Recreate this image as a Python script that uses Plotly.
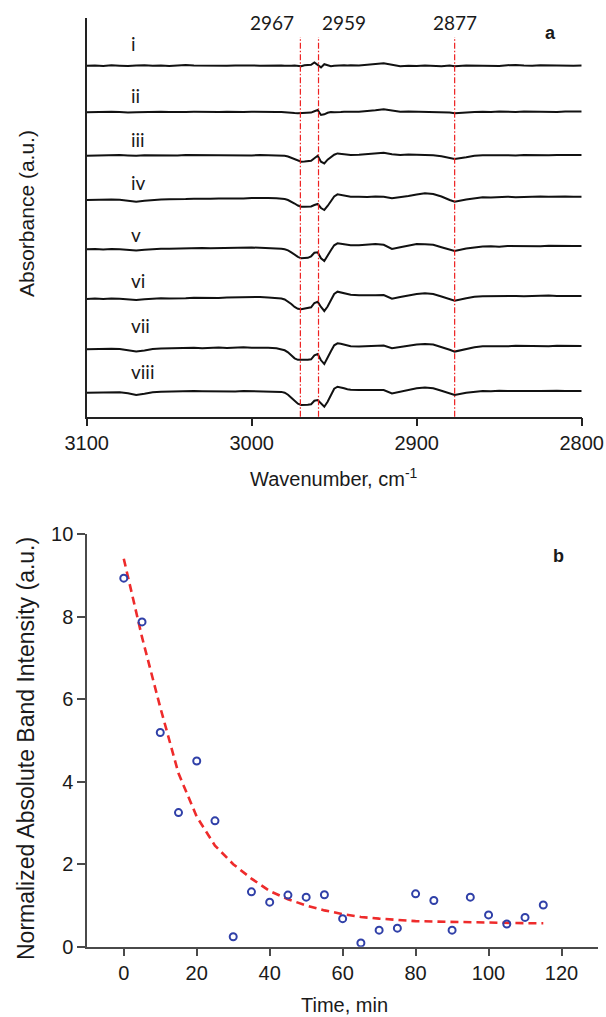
import plotly.graph_objects as go

W, H = 606, 1017

# ---------------- Panel a data ----------------
WAVENUMBER = [
    3100, 3095, 3090, 3085, 3080, 3075, 3070, 3065, 3060, 3055, 3050, 3045,
    3040, 3035, 3030, 3025, 3020, 3015, 3010, 3005, 3000, 2995, 2990, 2985,
    2982, 2980, 2978, 2976, 2974, 2972, 2970, 2968, 2966, 2964, 2962, 2960,
    2958, 2956, 2954, 2952, 2950, 2948, 2946, 2944, 2942, 2940,
    2935, 2930, 2925, 2920, 2915, 2910, 2905, 2900, 2895, 2890, 2885, 2880,
    2877, 2870, 2865, 2860, 2855, 2850, 2845, 2840, 2835, 2830, 2825, 2820,
    2815, 2810, 2805, 2800,
]

SPEC_I = [
    0, 0.3, -0.2, 0.4, 0, -0.3, 0.2, 0.5, 0, 0.3, -0.2, 0.4, 0.6, 0.2, 0, 0.4, 0.3, -0.1, 0.3, 0.5, 0.2, 0, 0.3, 0.2,
    0.2, 0, -0.3, 0, 0.3, 0, -0.5, 0.5, 0.8, 1.0, 3.3, 1.0, -1.7, 1.5, 0.3, -0.5, 0, 0.3, 0, 0.4, 0.2, 0.5,
    0.3, 0.8, 1.5, 2.5, 1.0, -0.5, 0, -0.3, 0.3, 0, -0.5, 0.2, -0.5, 0.2, 0, 0.5, 0.2, -0.3, 0.5, 0.8, 0.3, 0, 0.5, 0.2, 0, 0.3, 0, 0.2,
]
SPEC_II = [
    0, 0.3, 0, 0.5, 0.2, -0.3, 0, 0.4, 0.2, 0.6, 0.3, 0, 0.4, 0.5, 0.2, 0.6, 0.3, 0.5, 0.2, 0.4, 0.6, 0.3, 0.5, 0.4,
    0.3, 0.2, 0, -0.5, -0.8, -1.0, -1.0, -0.8, -0.5, -0.3, 1.0, 2.3, -2.7, -2.0, -0.5, 0.3, 0, 0.5, 0.3, 0.6, 0.4, 0.5,
    0.6, 1.0, 2.0, 3.0, 1.5, 0.5, 0.8, 0.5, 0.3, 0.6, 0.2, -0.3, -1.0, 0, 0.3, 0.6, 0.3, 0.8, 0.5, 0.3, 0.7, 0.5, 0.8, 0.6, 0.4, 0.7, 0.6, 0.7,
]
SPEC_III = [
    0, 0.3, 0.5, 0.2, 0.6, 0.3, 0, 0.5, 0.3, 0.7, 0.4, 0.2, 0.6, 0.5, 0.8, 0.4, 0.6, 0.3, 0.7, 0.5, 0.3, 0.6, 0.5, 0.4,
    0.3, 0, -0.8, -2.0, -3.5, -5.0, -6.0, -5.8, -5.5, -5.0, -2.5, 0, -6.0, -7.7, -4.0, -1.0, 1.0, 2.3, 1.8, 1.2, 1.0, 0.8,
    1.0, 1.5, 2.2, 3.0, 1.5, 0.8, 1.2, 1.0, 0.7, 0.5, -0.5, -2.0, -3.3, -1.5, 0, 0.5, 0.3, 0.8, 0.5, 0.3, 0.7, 0.5, 0.6, 0.4, 0.8, 0.6, 0.5, 0.7,
]
SPEC_IV = [
    0, 0.3, 0, 0.5, 0.3, -0.5, -1.7, -0.8, 0, 0.5, 0.8, 0.6, 1.0, 1.3, 0.9, 1.2, 1.5, 1.3, 1.8, 1.5, 2.0, 2.3, 2.0, 1.8,
    1.5, 1.0, 0, -1.5, -3.5, -5.5, -6.7, -6.7, -6.5, -6.5, -5.0, -4.0, -8.0, -10.0, -6.0, -1.0, 3.5, 5.7, 5.0, 4.2, 3.5, 3.3,
    3.3, 3.0, 3.5, 3.3, 1.7, 2.5, 4.0, 5.5, 6.7, 6.0, 3.5, 0, -1.7, 0.5, 2.0, 2.8, 2.5, 3.0, 3.3, 2.8, 3.2, 3.0, 3.5, 3.3, 3.0, 3.4, 3.2, 3.3,
]
SPEC_V = [
    0, 0.3, -0.2, 0.4, 0, -0.5, -1.3, -0.5, 0.3, 0.6, 0.5, 0.8, 1.0, 0.7, 1.2, 1.0, 1.3, 1.5, 1.2, 1.6, 1.8, 1.5, 1.3, 1.0,
    0.5, 0, -1.0, -3.0, -5.5, -7.5, -9.0, -9.0, -8.5, -7.0, -3.5, -3.0, -9.0, -11.7, -7.0, -1.0, 4.0, 6.0, 5.5, 4.8, 4.2, 4.0,
    4.0, 4.5, 5.3, 4.5, 0.3, 2.0, 4.0, 5.3, 5.0, 4.5, 2.0, -0.5, -1.7, 0.8, 2.0, 2.8, 3.0, 2.5, 3.2, 3.0, 3.5, 3.3, 3.0, 3.6, 3.3, 3.5, 3.2, 3.3,
]
SPEC_VI = [
    0, 0.4, 0, 0.5, 0.2, -0.3, -1.0, -0.3, 0.3, 0.8, 0.5, 1.0, 0.8, 1.2, 1.0, 1.4, 1.1, 1.5, 1.8, 1.4, 1.7, 2.0, 1.6, 1.2,
    0.5, -0.5, -2.5, -5.0, -8.0, -9.8, -10.3, -9.5, -8.8, -8.3, -4.0, -2.7, -8.0, -12.0, -7.5, -1.0, 5.0, 7.3, 6.5, 5.5, 4.8, 4.2,
    3.7, 3.5, 3.8, 4.0, 0.3, 2.0, 3.8, 5.0, 5.7, 5.0, 2.5, -0.5, -1.7, 0.8, 2.2, 2.8, 3.0, 2.6, 3.3, 3.0, 2.8, 3.2, 3.0, 3.4, 3.1, 2.9, 3.2, 3.0,
]
SPEC_VII = [
    0, 0.4, 0.2, 0.6, 0.3, -0.8, -2.3, -1.2, 0.2, 0.8, 1.0, 0.7, 1.2, 1.5, 1.0, 1.4, 1.8, 1.3, 1.7, 2.0, 1.6, 1.9, 1.5, 1.0,
    0.2, -1.0, -3.0, -6.0, -9.0, -10.5, -10.7, -10.7, -10.5, -10.0, -6.0, -4.7, -11.0, -14.7, -9.0, -2.0, 4.0, 6.0, 5.5, 4.5, 3.5, 3.0,
    2.7, 3.0, 3.5, 3.7, 1.0, 2.0, 3.5, 4.8, 5.3, 4.8, 2.5, -0.5, -2.3, 0.5, 2.0, 3.0, 2.8, 3.3, 3.0, 3.5, 3.2, 3.6, 3.3, 3.0, 3.5, 3.4, 3.2, 3.3,
]
SPEC_VIII = [
    0, 0.3, 0.6, 0.2, 0.5, -0.5, -2.3, -1.0, 0.5, 1.0, 1.3, 1.5, 1.2, 1.7, 1.5, 1.3, 1.8, 1.6, 1.3, 1.7, 1.5, 1.2, 1.6, 1.3,
    0.8, 0, -2.0, -5.0, -8.5, -11.0, -12.3, -12.3, -12.0, -11.5, -8.0, -7.3, -11.0, -14.0, -9.0, -2.0, 4.0, 6.0, 5.5, 4.5, 3.5, 3.0,
    2.7, 2.5, 2.8, 2.7, -0.7, 1.0, 3.0, 4.5, 5.3, 4.5, 2.0, -1.0, -2.3, 0, 1.2, 1.8, 1.5, 2.0, 1.7, 1.5, 1.9, 1.6, 1.8, 1.5, 1.9, 1.7, 1.6, 1.7,
]
SPECTRUM_LABELS = ["i", "ii", "iii", "iv", "v", "vi", "vii", "viii"]
SPECTRA = [SPEC_I, SPEC_II, SPEC_III, SPEC_IV, SPEC_V, SPEC_VI, SPEC_VII, SPEC_VIII]
STACK_OFFSETS = [351, 304.4, 261, 216.7, 167.4, 117.7, 67.4, 24]

PEAK_LINE_POS = [2970.5, 2959.5, 2877]
PEAK_LABELS = ["2967", "2959", "2877"]

# ---------------- Panel b data ----------------
TIME_MIN = [0, 5, 10, 15, 20, 25, 30, 35, 40, 45, 50, 55, 60, 65, 70, 75, 80,
            85, 90, 95, 100, 105, 110, 115]
INTENSITY = [8.93, 7.87, 5.19, 3.25, 4.50, 3.05, 0.24, 1.33, 1.08, 1.25, 1.20,
             1.26, 0.68, 0.09, 0.40, 0.45, 1.28, 1.12, 0.40, 1.20, 0.77, 0.55,
             0.71, 1.01]
FIT_TIME = [0, 5, 10, 15, 20, 25, 30, 35, 40, 45, 50, 55, 60, 65, 70, 75, 80,
            85, 90, 95, 100, 105, 110, 115]
FIT_VALUES = [9.40, 7.50, 5.80, 4.20, 3.15, 2.45, 2.00, 1.65, 1.35, 1.15, 1.00,
              0.88, 0.79, 0.72, 0.68, 0.65, 0.62, 0.61, 0.60, 0.59, 0.58, 0.58,
              0.57, 0.57]

for s in SPECTRA:
    assert len(s) == len(WAVENUMBER), len(s)

ARIAL = "Liberation Sans, Arial, sans-serif"
CALI = "Lato, Open Sans, sans-serif"
INK = "#1a1a1a"


def px(x):
    return x / W


def py(y):
    return 1 - y / H


fig = go.Figure()

for vals, off in zip(SPECTRA, STACK_OFFSETS):
    fig.add_trace(go.Scatter(
        x=WAVENUMBER, y=[off + v for v in vals], mode="lines",
        line=dict(color="#111111", width=2), xaxis="x", yaxis="y",
        showlegend=False, hoverinfo="skip"))

fig.add_trace(go.Scatter(
    x=FIT_TIME, y=FIT_VALUES, mode="lines",
    line=dict(color="#ee2b2b", width=2.6, dash="8px,5px"),
    xaxis="x2", yaxis="y2", showlegend=False))
fig.add_trace(go.Scatter(
    x=TIME_MIN, y=INTENSITY, mode="markers",
    marker=dict(symbol="circle-open", size=7, color="#3040a8",
                line=dict(width=2, color="#3040a8")),
    xaxis="x2", yaxis="y2", showlegend=False))

shapes = []
for wn in PEAK_LINE_POS:
    shapes.append(dict(type="line", xref="x", yref="y domain", x0=wn, x1=wn,
                       y0=0, y1=0.953,
                       line=dict(color="#ee2020", width=1.2,
                                 dash="6px,2px,1.5px,2px")))


def label(text, x, y, size, family=ARIAL, xanchor="center", angle=0, **kw):
    return dict(text=text, x=px(x), y=py(y), xref="paper", yref="paper",
                xanchor=xanchor, yanchor="middle", textangle=angle,
                showarrow=False, font=dict(family=family, size=size, color=INK),
                **kw)


ann = []
# peak labels
ann.append(dict(text=PEAK_LABELS[0], x=PEAK_LINE_POS[0], xref="x", y=py(22),
                yref="paper", xanchor="right", xshift=-4, yanchor="middle",
                showarrow=False, font=dict(family=CALI, size=19, color=INK)))
ann.append(dict(text=PEAK_LABELS[1], x=PEAK_LINE_POS[1], xref="x", y=py(22),
                yref="paper", xanchor="left", xshift=1, yanchor="middle",
                showarrow=False, font=dict(family=CALI, size=19, color=INK)))
ann.append(dict(text=PEAK_LABELS[2], x=PEAK_LINE_POS[2], xref="x", y=py(22),
                yref="paper", xanchor="center", yanchor="middle",
                showarrow=False, font=dict(family=CALI, size=19, color=INK)))

label_y = [43, 95, 139, 183, 234, 281, 325, 371]
for lab, ly in zip(SPECTRUM_LABELS, label_y):
    ann.append(label(lab, 129, ly, 19, family=CALI, xanchor="left"))

ann += [
    label("<b>a</b>", 550, 33, 18),
    label("<b>b</b>", 558, 556, 18),
    label("Absorbance (a.u.)", 27, 214, 21, angle=-90),
    label("Wavenumber, cm<sup>-1</sup>", 334, 477, 20),
    label("Normalized Absolute Band Intensity (a.u.)", 26, 749, 23, angle=-90),
    label("Time, min", 344, 1005, 20),
]

axis_common = dict(showgrid=False, zeroline=False, automargin=False,
                   ticks="outside", showline=True)

fig.update_layout(
    width=W, height=H,
    margin=dict(l=0, r=0, t=0, b=0),
    paper_bgcolor="white", plot_bgcolor="white",
    showlegend=False,
    xaxis=dict(domain=[px(86.7), px(581.7)], range=[3100, 2800], anchor="y",
               tickvals=[3100, 3000, 2900, 2800], ticklen=8, tickwidth=1.5,
               linewidth=1.5, linecolor="#222", tickcolor="#222",
               tickfont=dict(family=ARIAL, size=20, color=INK),
               **axis_common),
    yaxis=dict(domain=[py(416.7), py(18.3)], range=[0, 398.4], anchor="x",
               showticklabels=False, linewidth=1.5, linecolor="#222",
               showgrid=False, zeroline=False, automargin=False,
               showline=True, ticks=""),
    xaxis2=dict(domain=[px(87.3), px(598)], range=[-10, 130], anchor="y2",
                tickvals=[0, 20, 40, 60, 80, 100, 120], ticklen=7,
                tickwidth=2, linewidth=2, linecolor="#4a4a4a",
                tickcolor="#4a4a4a",
                tickfont=dict(family=ARIAL, size=20, color=INK),
                **axis_common),
    yaxis2=dict(domain=[py(946.7), py(534)], range=[0, 10], anchor="x2",
                tickvals=[0, 2, 4, 6, 8, 10], ticklen=8, tickwidth=2,
                linewidth=2, linecolor="#4a4a4a", tickcolor="#4a4a4a",
                tickfont=dict(family=ARIAL, size=20, color=INK),
                **axis_common),
    shapes=shapes,
    annotations=ann,
)

fig.write_html("out.html", config={"displayModeBar": False},
               post_script="document.body.style.margin='0';")
